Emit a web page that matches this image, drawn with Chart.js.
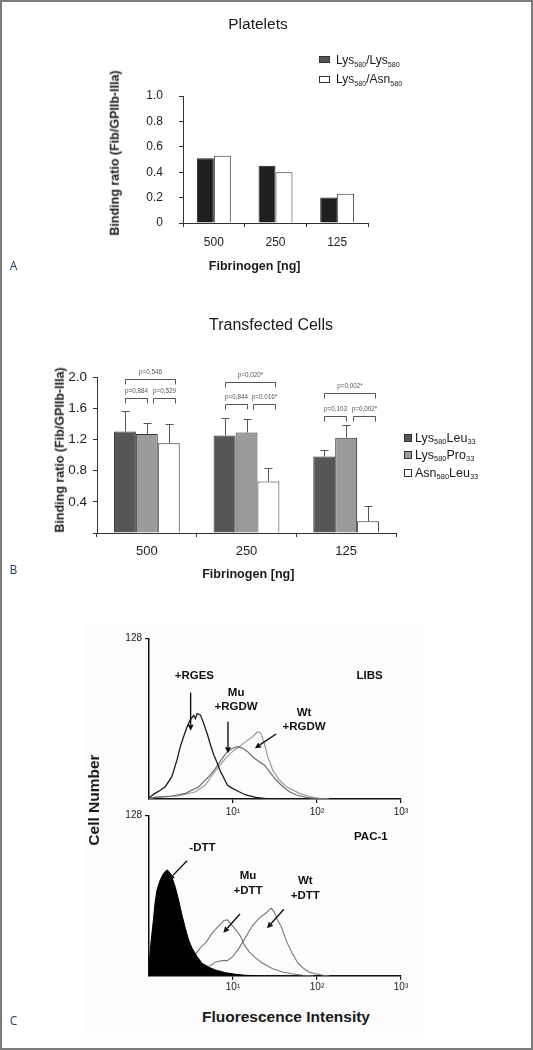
<!DOCTYPE html>
<html>
<head>
<meta charset="utf-8">
<script src="https://cdn.jsdelivr.net/npm/chart.js@4.4.1/dist/chart.umd.min.js"></script>
<style>
html,body{margin:0;padding:0;background:#fff;}
#fig{position:relative;width:533px;height:1050px;overflow:hidden;font-family:"Liberation Sans",Arial,Helvetica,sans-serif;color:#1a1a1a;background:#fff;}
#frame{position:absolute;left:0;top:0;width:533px;height:1050px;box-sizing:border-box;border:2px solid #7b7b7b;pointer-events:none;z-index:5;}
#tint{position:absolute;left:82px;top:624px;width:342px;height:409px;background:#fcfcfc;}
canvas{position:absolute;left:0;}
.t{position:absolute;white-space:nowrap;line-height:1;transform:translate(-50%,-50%);}
.l{position:absolute;white-space:nowrap;line-height:1;transform:translateY(-50%);}
.r{position:absolute;white-space:nowrap;line-height:1;transform:translate(-50%,-50%) rotate(-90deg);}
.b{font-weight:bold;}
sub{font-size:0.6em;vertical-align:-0.35em;line-height:0;}
.sw{position:absolute;box-sizing:border-box;border:1px solid #333;}
.pl{position:absolute;font-family:"Open Sans","DejaVu Sans",sans-serif;font-size:12px;color:#24405f;line-height:1;transform:translate(-50%,-50%);}
</style>
</head>
<body>
<div id="fig">
  <div id="tint"></div>
  <div id="frame"></div>
  <canvas id="cA" width="533" height="300" style="top:0px"></canvas>
  <canvas id="cB" width="533" height="300" style="top:300px"></canvas>
  <canvas id="cC1" width="533" height="200" style="top:620px"></canvas>
  <canvas id="cC2" width="533" height="200" style="top:800px"></canvas>

  <!-- Panel A texts -->
  <div class="t" style="left:258px;top:24px;font-size:15.5px;">Platelets</div>
  <div class="sw" style="left:319px;top:56px;width:11px;height:7px;background:#555;"></div>
  <div class="l" style="left:336px;top:59.5px;font-size:12px;">Lys<sub>580</sub>/Lys<sub>580</sub></div>
  <div class="sw" style="left:319px;top:75.5px;width:11px;height:7px;background:#fff;"></div>
  <div class="l" style="left:336px;top:79px;font-size:12px;">Lys<sub>580</sub>/Asn<sub>580</sub></div>
  <div class="r b" style="left:115px;top:152.5px;font-size:12.5px;">Binding ratio (Fib/GPIIb-IIIa)</div>
  <div class="t b" style="left:254.7px;top:265.7px;font-size:12.5px;">Fibrinogen [ng]</div>
  <div class="pl" style="left:13.5px;top:266px;">A</div>

  <!-- Panel B texts -->
  <div class="t" style="left:271px;top:325px;font-size:16px;">Transfected Cells</div>
  <div class="sw" style="left:404px;top:433.7px;width:8px;height:8px;background:#565656;"></div>
  <div class="l" style="left:415px;top:437.7px;font-size:12.5px;">Lys<sub>580</sub>Leu<sub>33</sub></div>
  <div class="sw" style="left:404px;top:451.3px;width:8px;height:8px;background:#9b9b9b;"></div>
  <div class="l" style="left:415px;top:455.3px;font-size:12.5px;">Lys<sub>580</sub>Pro<sub>33</sub></div>
  <div class="sw" style="left:404px;top:469.3px;width:8px;height:8px;background:#fff;"></div>
  <div class="l" style="left:415px;top:473.3px;font-size:12.5px;">Asn<sub>580</sub>Leu<sub>33</sub></div>
  <div class="r b" style="left:59.7px;top:450px;font-size:12.5px;">Binding ratio (Fib/GPIIb-IIIa)</div>
  <div class="t b" style="left:248.3px;top:574.3px;font-size:12.6px;">Fibrinogen [ng]</div>
  <div class="pl" style="left:13.5px;top:570px;">B</div>

  <!-- Panel C texts -->
  <div class="r b" style="left:94px;top:800px;font-size:15.5px;">Cell Number</div>
  <div class="t b" style="left:286px;top:1017.3px;font-size:15.5px;">Fluorescence Intensity</div>
  <div class="pl" style="left:13.5px;top:1020.7px;">C</div>
</div>
<script>
// ---------- Panel A: platelets ----------
const plateletCategories = ['500', '250', '125'];
const plateletLysLys = [0.51, 0.45, 0.20];
const plateletLysAsn = [0.53, 0.40, 0.23];

// ---------- Panel B: transfected cells ----------
const cellCategories = ['500', '250', '125'];
const lysLeuMean = [1.30, 1.25, 0.98];
const lysLeuErr  = [0.27, 0.22, 0.08];
const lysProMean = [1.27, 1.29, 1.22];
const lysProErr  = [0.14, 0.17, 0.16];
const asnLeuMean = [1.15, 0.66, 0.15];
const asnLeuErr  = [0.25, 0.17, 0.19];
// p-value brackets
const pCategory = [0, 0, 0, 1, 1, 1, 2, 2, 2];
const pFrom     = [0, 0, 1, 0, 0, 1, 0, 0, 1];
const pTo       = [2, 1, 2, 2, 1, 2, 2, 1, 2];
const pLevel    = [1.97, 1.73, 1.73, 1.93, 1.65, 1.65, 1.80, 1.505, 1.505];
const pLabel    = ['p=0,546', 'p=0,884', 'p=0,529', 'p=0,020*', 'p=0,844', 'p=0.016*', 'p=0,002*', 'p=0,103', 'p=0,002*'];

// ---------- Panel C: flow cytometry histograms ----------
const intensityTicks = [10, 100, 1000];
const intensityTickLabels = ['10\u00b9', '10\u00b2', '10\u00b3'];
const countTicks = [128];
// LIBS
const libsRgesX = [1.0, 1.18, 1.36, 1.56, 1.87, 2.15, 2.36, 2.58, 2.84, 3.10, 3.40, 3.57, 3.74, 4.09, 4.49, 4.93, 5.40, 5.92, 6.50, 7.11, 7.80, 8.57, 9.84, 11.8, 14.2, 18.7, 24.7, 35];
const libsRgesY = [1, 4.5, 7, 9.8, 17.8, 31, 41.7, 49.6, 57.6, 63, 66.5, 64, 68, 67, 60, 52, 43, 35, 28.4, 21.8, 16.5, 11.2, 8.5, 5.8, 3.2, 1.3, 0.3, 0];
const libsMuX = [1.0, 1.18, 1.87, 2.71, 3.91, 5.15, 6.20, 7.46, 8.57, 9.84, 11.3, 13.0, 14.9, 17.1, 20.5, 23.6, 27.1, 32.6, 39.2, 47.0, 56.6, 74.6, 98.4, 130];
const libsMuY = [0.5, 1.3, 2.4, 4.5, 9.8, 17.8, 24.4, 32.4, 37.7, 40.4, 41.7, 40.4, 37.7, 33.7, 29.7, 27.1, 21.8, 15.1, 9.8, 5.8, 3.2, 1.3, 0.3, 0];
const libsWtX = [1.0, 1.18, 2.25, 3.57, 4.70, 5.66, 6.79, 8.17, 9.84, 11.8, 14.2, 17.1, 19.6, 21.5, 23.6, 25.9, 29.7, 35.7, 42.9, 51.6, 62.0, 81.7, 108, 140];
const libsWtY = [0.5, 1.3, 2.4, 5.8, 11.2, 19.1, 25.7, 32.4, 37.7, 41.7, 45.7, 49.6, 53.6, 52.3, 44.4, 33.7, 23.1, 15.1, 9.8, 7.2, 4.5, 2, 0.3, 0];
const libsNoteText = [['+RGES'], ['Mu', '+RGDW'], ['Wt', '+RGDW'], ['LIBS']];
const libsNoteX = [3.47, 10.9, 70.0, 422];
const libsNoteY = [98, 84.7, 68.8, 98];
const libsArrowFrom = [[3.13, 84.7], [8.71, 61.6], [32.6, 51.8]];
const libsArrowTo   = [[3.13, 54.4], [8.71, 36.4], [18.2, 40.4]];
// PAC-1
const pacNegX = [1.0, 1.05, 1.13, 1.18, 1.24, 1.36, 1.49, 1.63, 1.74, 1.87, 2.05, 2.25, 2.47, 2.71, 2.96, 3.26, 3.74, 4.29, 5.15, 6.20, 8.17, 10.8, 14.2, 20];
const pacNegY = [8, 25, 45, 58, 68, 76.4, 81.7, 84.4, 83, 79, 71, 60.4, 48.4, 37.8, 28.5, 21.9, 15.2, 9.9, 6.7, 4.5, 2.4, 1.1, 0.3, 0];
const pacMuX = [3.4, 3.74, 4.29, 4.70, 5.66, 6.79, 7.80, 8.57, 9.84, 11.3, 12.4, 13.5, 15.6, 18.7, 22.5, 29.7, 39.2, 51.6, 68, 90];
const pacMuY = [15, 19, 24, 26, 34, 40, 44, 44.5, 40, 35, 31, 25, 19, 14, 10, 5.5, 3, 1.3, 0.3, 0];
const pacWtX = [3.74, 4.09, 5.40, 6.20, 7.50, 8.57, 9.84, 11.8, 14.2, 17.1, 20.5, 24.7, 28.4, 31.0, 33.5, 37.6, 41.0, 45.0, 51.6, 59.3, 70, 80, 95, 118, 140];
const pacWtY = [9, 7, 8, 11, 12, 12, 15, 22, 31, 40, 46, 50, 54, 51, 45, 39, 32, 25, 17, 10, 5.5, 3, 1.5, 0.3, 0];
const pacNoteText = [['PAC-1'], ['-DTT'], ['Mu', '+DTT'], ['Wt', '+DTT']];
const pacNoteX = [438, 4.33, 15.1, 72.6];
const pacNoteY = [110.5, 101.7, 79.6, 75.6];
const pacArrowFrom = [[2.84, 91.8], [12.1, 49.2], [40.3, 53.0]];
const pacArrowTo   = [[1.71, 76.4], [7.67, 34.3], [25.4, 37.8]];

// ---------- common ----------
const F = '"Liberation Sans", Arial, Helvetica, sans-serif';
Chart.defaults.font.family = F;
Chart.defaults.color = '#222';
const pts = (xs, ys) => xs.map((x, i) => ({x: x, y: ys[i]}));

function barScales(opts) {
  return {
    x: {
      afterFit: s => { s.height = opts.xh; },
      grid: {display: true, drawOnChartArea: false, drawTicks: true, tickLength: 4, color: '#333', offset: true},
      border: {display: true, color: '#333', width: 1},
      ticks: {font: {size: opts.xf}, color: '#222', padding: opts.xp}
    },
    y: {
      min: 0, max: opts.ymax,
      afterFit: s => { s.width = opts.yw; },
      grid: {display: true, drawOnChartArea: false, drawTicks: true, tickLength: 4, color: '#333'},
      border: {display: true, color: '#333', width: 1},
      ticks: {stepSize: opts.step, font: {size: opts.yf}, color: '#222', padding: opts.yp,
        callback: v => (Math.abs(v) < 1e-9 ? opts.zero : Number(v).toFixed(1))}
    }
  };
}

// ---------- Chart A ----------
new Chart(document.getElementById('cA'), {
  type: 'bar',
  data: {
    labels: plateletCategories,
    datasets: [
      {label: 'Lys580/Lys580', data: plateletLysLys, backgroundColor: '#1e1e1e', borderColor: '#222', borderWidth: 1},
      {label: 'Lys580/Asn580', data: plateletLysAsn, backgroundColor: '#ffffff', borderColor: '#333', borderWidth: 1}
    ]
  },
  options: {
    responsive: false, animation: false, events: [],
    datasets: {bar: {categoryPercentage: 0.55, barPercentage: 1.0}},
    layout: {padding: {top: 96, right: 165, left: 0, bottom: 0}},
    plugins: {legend: {display: false}, tooltip: {enabled: false}},
    scales: barScales({xh: 77, xf: 12, xp: 8, ymax: 1.0, yw: 183, step: 0.2, yf: 12, yp: 16, zero: '0'})
  }
});

// ---------- Chart B ----------
const cellNotes = {
  id: 'cellNotes',
  afterDatasetsDraw(chart) {
    const {ctx} = chart;
    const y = chart.scales.y;
    const errs = [lysLeuErr, lysProErr, asnLeuErr];
    ctx.save();
    ctx.strokeStyle = '#555';
    ctx.lineWidth = 1;
    chart.data.datasets.forEach((ds, i) => {
      chart.getDatasetMeta(i).data.forEach((bar, j) => {
        const x = Math.round(bar.x) + 0.5;
        const yt = Math.round(y.getPixelForValue(ds.data[j] + errs[i][j])) + 0.5;
        ctx.beginPath();
        ctx.moveTo(x, bar.y); ctx.lineTo(x, yt);
        ctx.moveTo(x - 4, yt); ctx.lineTo(x + 4, yt);
        ctx.stroke();
      });
    });
    ctx.font = '6.3px ' + F;
    ctx.fillStyle = '#555';
    ctx.textAlign = 'center';
    ctx.textBaseline = 'middle';
    pLabel.forEach((lab, k) => {
      const c = pCategory[k];
      const bars = [0, 1, 2].map(i => chart.getDatasetMeta(i).data[c]);
      const w = bars[0].width;
      const xa = Math.round(bars[pFrom[k]].x + (pFrom[k] > 0 ? 0.3 * w : 0)) + 0.5;
      const xb = Math.round(bars[pTo[k]].x + (pTo[k] === 2 ? 0.3 * w : 0)) + 0.5;
      const yy = Math.round(y.getPixelForValue(pLevel[k])) + 0.5;
      ctx.beginPath();
      ctx.moveTo(xa, yy + 5); ctx.lineTo(xa, yy); ctx.lineTo(xb, yy); ctx.lineTo(xb, yy + 5);
      ctx.stroke();
      ctx.fillText(lab, (xa + xb) / 2, yy - 7);
    });
    ctx.restore();
  }
};
new Chart(document.getElementById('cB'), {
  type: 'bar',
  data: {
    labels: cellCategories,
    datasets: [
      {label: 'Lys580Leu33', data: lysLeuMean, backgroundColor: '#565656', borderColor: '#333', borderWidth: 1},
      {label: 'Lys580Pro33', data: lysProMean, backgroundColor: '#9b9b9b', borderColor: '#333', borderWidth: 1},
      {label: 'Asn580Leu33', data: asnLeuMean, backgroundColor: '#ffffff', borderColor: '#333', borderWidth: 1}
    ]
  },
  options: {
    responsive: false, animation: false, events: [],
    datasets: {bar: {categoryPercentage: 0.66, barPercentage: 1.0}},
    layout: {padding: {top: 77, right: 137, left: 0, bottom: 0}},
    plugins: {legend: {display: false}, tooltip: {enabled: false}},
    scales: barScales({xh: 67, xf: 13, xp: 7, ymax: 2.0, yw: 97, step: 0.4, yf: 13.5, yp: 6, zero: ''})
  },
  plugins: [cellNotes]
});

// ---------- Charts C ----------
function notesPlugin(texts, tx, ty, from, to) {
  return {
    id: 'flowNotes',
    afterDatasetsDraw(chart) {
      const {ctx} = chart;
      const x = chart.scales.x, y = chart.scales.y;
      ctx.save();
      ctx.fillStyle = '#111';
      ctx.strokeStyle = '#111';
      ctx.font = 'bold 11.5px ' + F;
      ctx.textAlign = 'center';
      ctx.textBaseline = 'middle';
      texts.forEach((lines, i) => {
        const px = x.getPixelForValue(tx[i]), py = y.getPixelForValue(ty[i]);
        lines.forEach((s, k) => ctx.fillText(s, px, py + k * 14.5));
      });
      ctx.lineWidth = 1.4;
      from.forEach((f, i) => {
        const x1 = x.getPixelForValue(f[0]), y1 = y.getPixelForValue(f[1]);
        const x2 = x.getPixelForValue(to[i][0]), y2 = y.getPixelForValue(to[i][1]);
        const a = Math.atan2(y2 - y1, x2 - x1), L = 6, W = 3;
        const bx = x2 - L * Math.cos(a), by = y2 - L * Math.sin(a);
        ctx.beginPath(); ctx.moveTo(x1, y1); ctx.lineTo(bx, by); ctx.stroke();
        ctx.beginPath();
        ctx.moveTo(x2, y2);
        ctx.lineTo(bx + W * Math.sin(a), by - W * Math.cos(a));
        ctx.lineTo(bx - W * Math.sin(a), by + W * Math.cos(a));
        ctx.closePath(); ctx.fill();
      });
      ctx.restore();
    }
  };
}
function flowScales(xh, xp) {
  return {
    x: {
      type: 'logarithmic', min: 1, max: 1000,
      afterFit: s => { s.height = xh; },
      afterBuildTicks: s => { s.ticks = intensityTicks.map(v => ({value: v})); },
      grid: {display: true, drawOnChartArea: false, drawTicks: true, tickLength: 4, color: '#111', lineWidth: 1.2},
      border: {display: true, color: '#111', width: 1.5},
      ticks: {font: {size: 10}, color: '#222', padding: xp, maxRotation: 0,
        callback: v => { const i = intensityTicks.indexOf(v); return i >= 0 ? intensityTickLabels[i] : ''; }}
    },
    y: {
      min: 0, max: 128,
      afterFit: s => { s.width = 149; },
      afterBuildTicks: s => { s.ticks = countTicks.map(v => ({value: v})); },
      grid: {display: true, drawOnChartArea: false, drawTicks: true, tickLength: 4, color: '#111', lineWidth: 1.2},
      border: {display: true, color: '#111', width: 1.5},
      ticks: {font: {size: 10}, color: '#222', padding: 3, callback: v => String(v)}
    }
  };
}
const lineDs = (label, data, color, w) => ({label, data, showLine: true, borderColor: color, borderWidth: w, pointRadius: 0, fill: false, tension: 0});

new Chart(document.getElementById('cC1'), {
  type: 'scatter',
  data: {
    datasets: [
      lineDs('+RGES', pts(libsRgesX, libsRgesY), '#1c1c1c', 1.3),
      lineDs('Mu +RGDW', pts(libsMuX, libsMuY), '#6c6c6c', 1.2),
      lineDs('Wt +RGDW', pts(libsWtX, libsWtY), '#9a9a9a', 1.2)
    ]
  },
  options: {
    responsive: false, animation: false, events: [],
    layout: {padding: {top: 18.3, right: 132, left: 0, bottom: 0}},
    plugins: {legend: {display: false}, tooltip: {enabled: false}},
    scales: flowScales(21, 3)
  },
  plugins: [notesPlugin(libsNoteText, libsNoteX, libsNoteY, libsArrowFrom, libsArrowTo)]
});

new Chart(document.getElementById('cC2'), {
  type: 'scatter',
  data: {
    datasets: [
      Object.assign(lineDs('-DTT', pts(pacNegX, pacNegY), '#000', 1), {fill: 'origin', backgroundColor: '#000'}),
      lineDs('Mu +DTT', pts(pacMuX, pacMuY), '#777', 1.1),
      lineDs('Wt +DTT', pts(pacWtX, pacWtY), '#777', 1.1)
    ]
  },
  options: {
    responsive: false, animation: false, events: [],
    layout: {padding: {top: 15.3, right: 132, left: 0, bottom: 0}},
    plugins: {legend: {display: false}, tooltip: {enabled: false}},
    scales: flowScales(24.3, 1.5)
  },
  plugins: [notesPlugin(pacNoteText, pacNoteX, pacNoteY, pacArrowFrom, pacArrowTo)]
});
</script>
</body>
</html>
